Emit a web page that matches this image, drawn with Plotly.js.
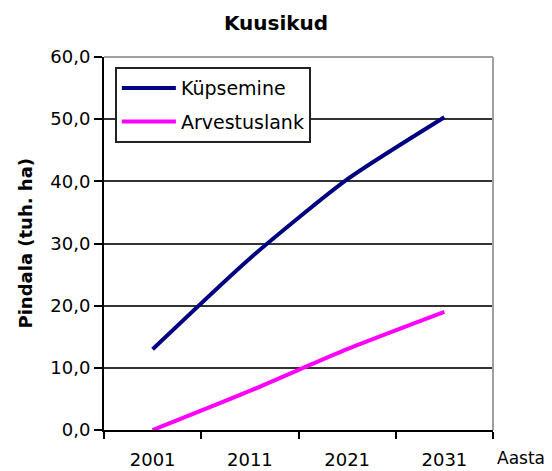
<!DOCTYPE html>
<html>
<head>
<meta charset="utf-8">
<script src="https://cdn.plot.ly/plotly-3.0.1.min.js"></script>
<style>html,body{margin:0;padding:0;background:#fff;}#chart{width:552px;height:471px;}</style>
</head>
<body>
<div id="chart"></div>
<script>
const years = ["2001", "2011", "2021", "2031"];
const kupsemine = [13.0, 27.6, 40.3, 50.3];
const arvestuslank = [0.0, 6.3, 13.0, 19.0];
const yTicks = [0, 10, 20, 30, 40, 50, 60];

const FONT = "DejaVu Sans, Verdana, sans-serif";

const traces = [
  {x: years, y: kupsemine, name: "Küpsemine", type: "scatter", mode: "lines",
   legendgroup: "a", line: {color: "#000080", width: 4, shape: "spline", smoothing: 0.6}},
  {x: years, y: arvestuslank, name: "Arvestuslank", type: "scatter", mode: "lines",
   legendgroup: "b", line: {color: "#FF00FF", width: 4, shape: "spline", smoothing: 0.6}}
];

const layout = {
  width: 552, height: 471,
  margin: {l: 104, r: 59, t: 57, b: 41},
  paper_bgcolor: "#ffffff", plot_bgcolor: "#ffffff",
  font: {family: FONT, size: 18, color: "#000"},
  title: {text: "<b>Kuusikud</b>", x: 0.5, xref: "container", xanchor: "center",
          y: 1 - 23/471, yref: "container", yanchor: "middle",
          font: {family: FONT, size: 20, color: "#000"}},
  showlegend: true,
  legend: {x: 0.028, y: 0.973, xanchor: "left", yanchor: "top", xref: "paper", yref: "paper",
           bgcolor: "#fff", bordercolor: "#222", borderwidth: 2,
           font: {family: FONT, size: 19, color: "#000"}, tracegroupgap: 6,
           itemwidth: 54, entrywidth: 190, traceorder: "grouped"},
  xaxis: {type: "category", range: [-0.5, 3.5], tickson: "boundaries",
          ticks: "outside", ticklen: 7, tickwidth: 2, tickcolor: "#000",
          showline: true, linecolor: "#000", linewidth: 2, showgrid: false, zeroline: false,
          ticklabelstandoff: 12, tickfont: {family: FONT, size: 18, color: "#000"},
          fixedrange: true},
  yaxis: {range: [0, 60], tickvals: yTicks, tickformat: ".1f",
          ticks: "outside", ticklen: 8, tickwidth: 2, tickcolor: "#000",
          showline: true, linecolor: "#000", linewidth: 2,
          showgrid: true, gridcolor: "#333", gridwidth: 2, zeroline: false,
          tickfont: {family: FONT, size: 18, color: "#000"}, fixedrange: true},
  separators: ", ",
  shapes: [
    {type: "line", xref: "paper", yref: "paper", x0: 0, x1: 1, y0: 1, y1: 1,
     line: {color: "#a0a0a0", width: 2}, layer: "above"},
    {type: "line", xref: "paper", yref: "paper", x0: 1, x1: 1, y0: 0, y1: 1,
     line: {color: "#a0a0a0", width: 2}, layer: "above"}
  ],
  annotations: [
    {text: "<b>Pindala (tuh. ha)</b>", textangle: -90, xref: "paper", yref: "paper",
     x: (25 - 104) / 389, y: 0.5, xanchor: "center", yanchor: "middle", showarrow: false,
     font: {family: FONT, size: 18, color: "#000"}},
    {text: "Aasta", xref: "paper", yref: "paper", x: (495 - 104) / 389, y: (430 - 458) / 373,
     xanchor: "left", yanchor: "middle", showarrow: false,
     font: {family: FONT, size: 17, color: "#000"}}
  ]
};

Plotly.newPlot("chart", traces, layout, {displayModeBar: false, staticPlot: true});
</script>
</body>
</html>
